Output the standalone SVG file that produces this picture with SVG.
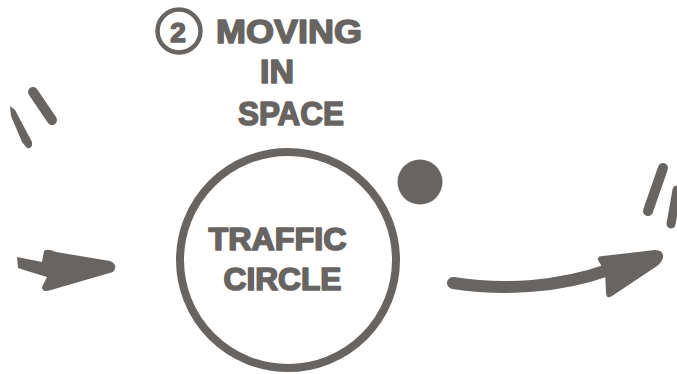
<svg xmlns="http://www.w3.org/2000/svg" width="677" height="374" viewBox="0 0 677 374">
<style>
.t{font-family:"Liberation Sans",Arial,sans-serif;font-weight:bold;fill:#686462;stroke:#686462;stroke-width:1.6;stroke-linejoin:round;text-anchor:middle}
.s{fill:none;stroke:#686462;stroke-linecap:round}
.f{fill:#686462}
</style>
<rect width="677" height="374" fill="#ffffff"/>
<g id="title">
<circle cx="179" cy="31" r="21.5" class="s" stroke-width="4.5"/>
<text x="178" y="42" class="t" font-size="28">2</text>
<text x="289" y="43" class="t" font-size="34" textLength="146" lengthAdjust="spacingAndGlyphs">MOVING</text>
<text x="277" y="83" class="t" font-size="34">IN</text>
<text x="291" y="125" class="t" font-size="34" textLength="106" lengthAdjust="spacingAndGlyphs">SPACE</text>
</g>
<g id="traffic-circle">
<circle cx="288" cy="260" r="108" class="s" stroke-width="8"/>
<text x="277.5" y="250" class="t" font-size="31" textLength="138" lengthAdjust="spacingAndGlyphs">TRAFFIC</text>
<text x="282.5" y="290" class="t" font-size="31" textLength="118" lengthAdjust="spacingAndGlyphs">CIRCLE</text>
</g>
<g id="dot">
<circle cx="420" cy="182" r="22.5" class="f"/>
</g>
<g id="marks">
<path d="M10,106 L15,110 L32,142 Q33,149 27,148 L22,142 L11,116 Z" class="f"/>
<path d="M33,92 L52,120" class="s" stroke-width="10"/>
<path d="M663,168 L648,211" class="s" stroke-width="10"/>
<path d="M677,190 L671,224" class="s" stroke-width="9"/>
</g>
<g id="connectors">
<path d="M17,257 L42,262 L44,251 Q47,248 56,252 L110,261 Q119,265 113,272 L51,290 Q42,293 42,287 L47,277 Q30,272 18,268 Z" class="f"/>
<path d="M453,283 C505,291 560,287 608,270" class="s" stroke-width="12"/>
<path d="M598,260 Q597,256 603,256 L655,250 Q664,250 663,258 Q661,264 654,268 L612,296 Q606,300 606,292 L605,272 Z" class="f"/>
</g>
</svg>
